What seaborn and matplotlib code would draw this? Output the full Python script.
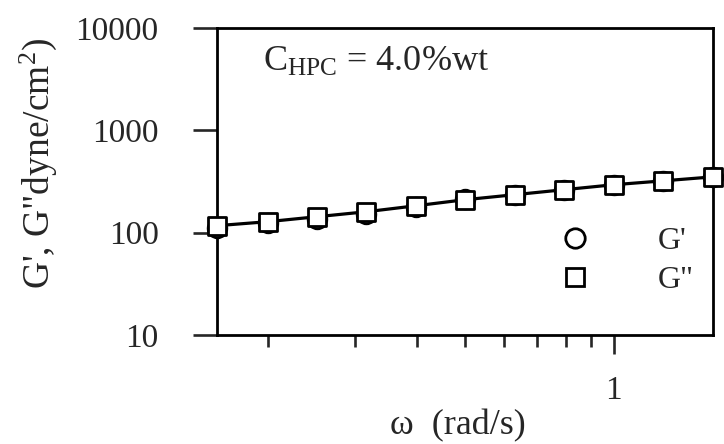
import matplotlib
matplotlib.use("Agg")
import matplotlib.pyplot as plt
import matplotlib.ticker as mticker
from matplotlib.lines import Line2D
import seaborn as sns
import pandas as pd

# ---- data ----
omega = [0.158, 0.200, 0.251, 0.316, 0.398, 0.501, 0.631, 0.794, 1.000, 1.259, 1.587]
g_storage = [112, 124, 136, 152, 180, 214, 232, 260, 292, 320, 348]   # G'
g_loss = [117, 128, 143, 160, 183, 210, 235, 263, 294, 321, 351]      # G''
y_ticks = [10, 100, 1000, 10000]
y_tick_labels = ["10", "100", "1000", "10000"]
x_ticks = [1]
x_tick_labels = ["1"]
legend_labels = ["G'", 'G"']

sns.set_style("white")
plt.rcParams["font.family"] = ["Liberation Serif", "DejaVu Serif"]
plt.rcParams["mathtext.fontset"] = "custom"
plt.rcParams["mathtext.rm"] = "Liberation Serif"
plt.rcParams["mathtext.it"] = "Liberation Serif:italic"

df = pd.DataFrame({"omega": omega, "Gp": g_storage, "Gpp": g_loss})

fig = plt.figure(figsize=(7.24, 4.44), dpi=100)
ax = fig.add_axes([217 / 724, 1 - 335 / 444, (713 - 217) / 724, (335 - 28) / 444])
ax.set_xscale("log")
ax.set_yscale("log")

sns.scatterplot(data=df, x="omega", y="Gp", marker="o", s=180, facecolor="white",
                edgecolor="black", linewidth=2.0, ax=ax, clip_on=False, zorder=3)
sns.lineplot(data=df, x="omega", y="Gpp", color="black", linewidth=2.3, ax=ax, zorder=4)
sns.scatterplot(data=df, x="omega", y="Gpp", marker="s", s=180, facecolor="white",
                edgecolor="black", linewidth=2.0, ax=ax, clip_on=False, zorder=5)

ax.set_xlim(omega[0], omega[-1])
ax.set_ylim(y_ticks[0], y_ticks[-1])

ax.yaxis.set_major_locator(mticker.FixedLocator(y_ticks))
ax.yaxis.set_major_formatter(mticker.FixedFormatter(y_tick_labels))
ax.yaxis.set_minor_locator(mticker.NullLocator())
ax.xaxis.set_major_locator(mticker.FixedLocator(x_ticks))
ax.xaxis.set_major_formatter(mticker.FixedFormatter(x_tick_labels))
ax.xaxis.set_minor_locator(mticker.LogLocator(base=10, subs=[2, 3, 4, 5, 6, 7, 8, 9]))
ax.xaxis.set_minor_formatter(mticker.NullFormatter())

for s in ax.spines.values():
    s.set_linewidth(2.0)
    s.set_color("black")

ax.tick_params(axis="y", which="major", direction="out", length=17, width=1.9,
               pad=25, labelsize=24, left=True, right=False)
ax.tick_params(axis="x", which="major", direction="out", length=14, width=1.9,
               pad=15, labelsize=24, bottom=True, top=False)
ax.tick_params(axis="x", which="minor", direction="out", length=8.5, width=1.9,
               bottom=True, top=False)

ax.set_xlabel("ω  (rad/s)", fontsize=26)
ax.set_ylabel('G\', G"dyne/cm$^{2}$)', fontsize=27)
ax.xaxis.set_label_coords(0.485, -0.243)
ax.xaxis.label.set_va("top")
ax.yaxis.set_label_coords(-0.318, 0.56)

ax.text(0.092, 0.86, "C$_{\\mathrm{HPC}}$ = 4.0%wt", transform=ax.transAxes,
        fontsize=26, va="baseline", ha="left")

handles = [
    Line2D([], [], linestyle="none", marker="o", markersize=14, markerfacecolor="white",
           markeredgecolor="black", markeredgewidth=2.0),
    Line2D([], [], linestyle="none", marker="s", markersize=13, markerfacecolor="white",
           markeredgecolor="black", markeredgewidth=2.0),
]
ax.legend(handles, legend_labels, loc="upper left", bbox_to_anchor=(0.689, 0.352),
          frameon=False, fontsize=23, handlelength=1.0, handletextpad=2.1,
          labelspacing=0.3, borderpad=0, borderaxespad=0)

fig.savefig("out.png", dpi=100)
